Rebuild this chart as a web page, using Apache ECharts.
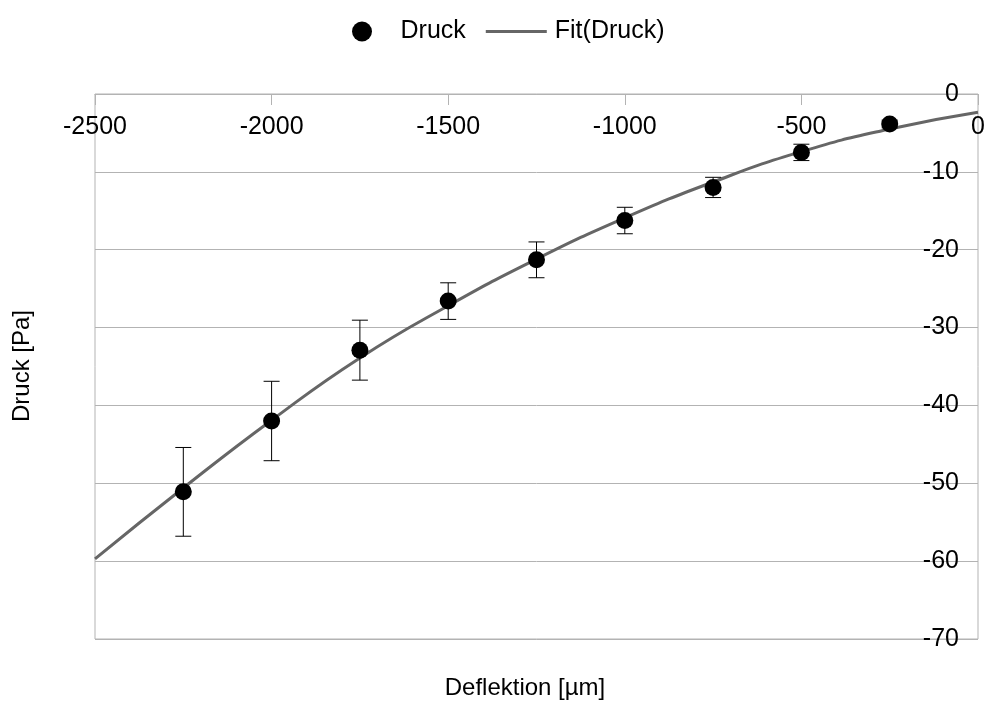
<!DOCTYPE html>
<html>
<head>
<meta charset="utf-8">
<script src="https://cdn.jsdelivr.net/npm/echarts@6/dist/echarts.min.js"></script>
<style>
html, body { margin: 0; padding: 0; background: #fff; }
#chart { width: 988px; height: 704px; }
</style>
</head>
<body>
<div id="chart"></div>
<script>
// Messpunkte (Deflektion in µm, Druck in Pa) mit Fehlerbalken
var deflektion = [-2250, -2000, -1750, -1500, -1250, -1000, -750, -500, -250];
var druck = [-51.1, -42.0, -32.9, -26.6, -21.3, -16.25, -12.0, -7.5, -3.85];
var druckFehler = [5.7, 5.1, 3.85, 2.35, 2.3, 1.7, 1.3, 1.05, 0.5];

var fitX = [-2500, -2250, -2000, -1750, -1500, -1250, -1000, -750, -500, -250, 0];
var fitY = [-59.7, -50.6, -41.9, -33.9, -27.2, -21.2, -15.9, -11.3, -7.4, -4.5, -2.35];

var fontName = 'Liberation Sans';

document.addEventListener('DOMContentLoaded', function () {
    var chart = echarts.init(document.getElementById('chart'));

    var punkte = deflektion.map(function (x, i) { return [x, druck[i]]; });
    var fehler = deflektion.map(function (x, i) {
        return [x, druck[i] - druckFehler[i], druck[i] + druckFehler[i]];
    });
    var fit = fitX.map(function (x, i) { return [x, fitY[i]]; });

    var option = {
        backgroundColor: '#fff',
        animation: false,
        legend: {
            left: 347,
            top: 14,
            itemWidth: 61,
            itemHeight: 20,
            itemGap: 20,
            textStyle: { fontFamily: fontName, fontSize: 25, color: '#000', padding: [0, 0, 0, 3] },
            data: [
                { name: 'Druck', icon: 'circle' },
                { name: 'Fit(Druck)', icon: 'path://M0,0L61,0L61,3L0,3Z' }
            ]
        },
        grid: {
            left: 95, right: 10, top: 94, bottom: 65,
            show: true, borderColor: '#b3b3b3', borderWidth: 1
        },
        graphic: [
            {
                type: 'text', x: 525, y: 688,
                style: {
                    text: 'Deflektion [µm]', fontFamily: fontName, fontSize: 24, fill: '#000',
                    align: 'center', verticalAlign: 'middle'
                }
            },
            {
                type: 'text', x: 22, y: 366, rotation: Math.PI / 2,
                style: {
                    text: 'Druck [Pa]', fontFamily: fontName, fontSize: 24, fill: '#000',
                    align: 'center', verticalAlign: 'middle'
                }
            }
        ],
        xAxis: {
            type: 'value',
            position: 'top',
            min: -2500, max: 0, interval: 500,
            axisLine: { show: true, onZero: false, lineStyle: { color: '#b3b3b3' } },
            axisTick: { show: true, inside: true, length: 11, lineStyle: { color: '#b3b3b3' } },
            axisLabel: {
                inside: true, margin: 21, fontFamily: fontName, fontSize: 25, color: '#000',
                formatter: function (v) { return String(v); }
            },
            splitLine: { show: false }
        },
        yAxis: {
            type: 'value',
            position: 'right',
            min: -70, max: 0, interval: 10,
            axisLine: { show: false },
            axisTick: { show: false },
            axisLabel: {
                inside: true, margin: 19, fontFamily: fontName, fontSize: 25, color: '#000',
                formatter: function (v) { return String(v); }
            },
            splitLine: { show: true, lineStyle: { color: '#b3b3b3', width: 1 } }
        },
        series: [
            {
                name: 'Fit(Druck)',
                type: 'line',
                data: fit,
                smooth: true,
                symbol: 'none',
                color: '#666',
                lineStyle: { color: '#666', width: 3 },
                z: 2
            },
            {
                name: 'Fehler',
                type: 'custom',
                data: fehler,
                encode: { x: 0, y: [1, 2] },
                renderItem: function (params, api) {
                    var x = api.value(0);
                    var unten = api.coord([x, api.value(1)]);
                    var oben = api.coord([x, api.value(2)]);
                    var halb = 8;
                    var stil = { stroke: '#000', lineWidth: 1 };
                    return {
                        type: 'group',
                        children: [
                            { type: 'line', shape: { x1: oben[0], y1: oben[1], x2: unten[0], y2: unten[1] }, style: stil },
                            { type: 'line', shape: { x1: oben[0] - halb, y1: oben[1], x2: oben[0] + halb, y2: oben[1] }, style: stil },
                            { type: 'line', shape: { x1: unten[0] - halb, y1: unten[1], x2: unten[0] + halb, y2: unten[1] }, style: stil }
                        ]
                    };
                },
                z: 3
            },
            {
                name: 'Druck',
                type: 'scatter',
                data: punkte,
                symbol: 'circle',
                symbolSize: 17,
                color: '#000',
                itemStyle: { color: '#000', opacity: 1 },
                z: 4
            }
        ]
    };

    chart.setOption(option);
});
</script>
</body>
</html>
